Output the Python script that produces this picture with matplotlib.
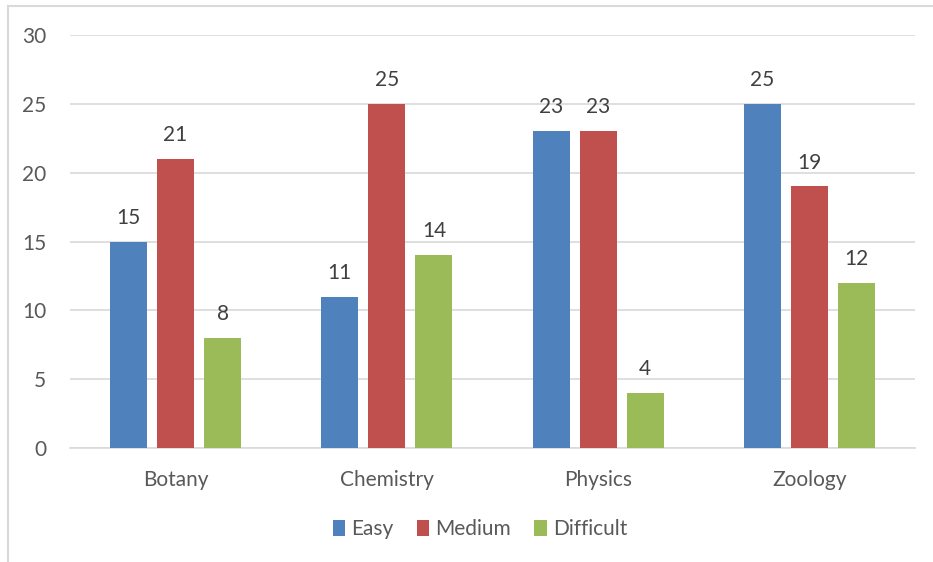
import numpy as np
import matplotlib.pyplot as plt
from matplotlib.lines import Line2D

subjects = ['Botany', 'Chemistry', 'Physics', 'Zoology']
easy = [15, 11, 23, 25]
medium = [21, 25, 23, 19]
difficult = [8, 14, 4, 12]
series_names = ['Easy', 'Medium', 'Difficult']
colors = ['#4F81BD', '#C0504D', '#9BBB59']

plt.rcParams['font.family'] = ['Lato', 'DejaVu Sans']
text_color = '#595959'
fs = 15

fig = plt.figure(figsize=(9.33, 5.62), dpi=100)
ax = fig.add_axes([70 / 933, 1 - 448 / 562, 845 / 933, 413 / 562])

x = np.arange(len(subjects))
width = 0.175
step = 0.223
for i, (vals, name, c) in enumerate(zip([easy, medium, difficult], series_names, colors)):
    bars = ax.bar(x + (i - 1) * step, vals, width, color=c, label=name, zorder=3)
    ax.bar_label(bars, padding=10, fontsize=fs, color='#404040')

ax.set_xlim(-0.5, len(subjects) - 0.5)
ax.set_ylim(0, 30)
ax.set_yticks(range(0, 31, 5))
ax.set_xticks(x)
ax.set_xticklabels(subjects)
ax.tick_params(axis='both', length=0, labelsize=fs, colors=text_color)
ax.tick_params(axis='y', pad=17)
ax.tick_params(axis='x', pad=16)
ax.grid(axis='y', color='#D9D9D9', linewidth=1.2, zorder=0)
for s in ['top', 'right', 'left']:
    ax.spines[s].set_visible(False)
ax.spines['bottom'].set_color('#D9D9D9')
ax.spines['bottom'].set_linewidth(1.2)

fig.legend(loc='center', bbox_to_anchor=(480 / 933, 1 - 529 / 562), ncol=3,
           frameon=False, fontsize=fs, handlelength=0.6, handleheight=0.8,
           handletextpad=0.3, columnspacing=1.1, labelcolor=text_color)

# outer chart border (top and left edges visible)
fig.add_artist(Line2D([8 / 933, 8 / 933], [0, 1 - 6 / 562], color='#D9D9D9', lw=1.5))
fig.add_artist(Line2D([8 / 933, 1], [1 - 6 / 562, 1 - 6 / 562], color='#D9D9D9', lw=1.5))

fig.savefig('out.png', dpi=100)
